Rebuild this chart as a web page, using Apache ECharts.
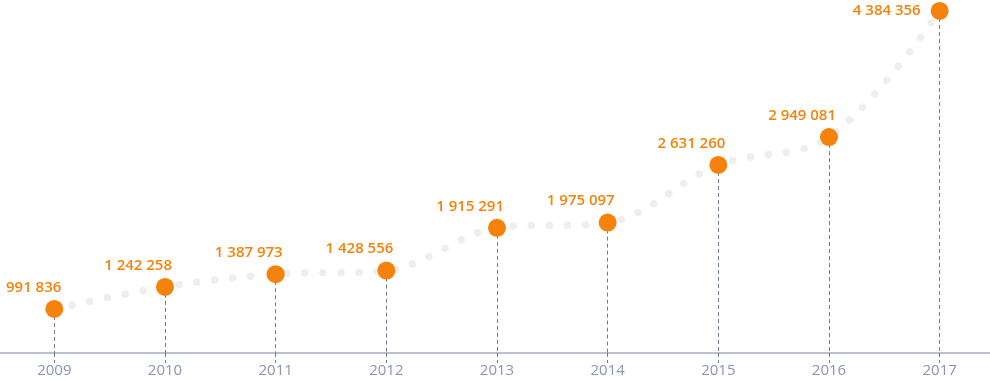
<!DOCTYPE html>
<html>
<head>
<meta charset="utf-8">
<script src="https://cdn.jsdelivr.net/npm/echarts@6/dist/echarts.min.js"></script>
<style>html,body{margin:0;padding:0;background:#fff}#c{width:990px;height:380px}</style>
</head>
<body>
<div id="c"></div>
<script>
var years = ['2009','2010','2011','2012','2013','2014','2015','2016','2017'];
var values = [991836, 1242258, 1387973, 1428556, 1915291, 1975097, 2631260, 2949081, 4384356];
var yMin = 490700;
var yMax = 4509400;

function fmt(v){ return String(v).replace(/\B(?=(\d{3})+(?!\d))/g, ' '); }

var chart = echarts.init(document.getElementById('c'));
var pointData = values.map(function(v, i){
  var item = { value: v };
  if (i === values.length - 1) {
    item.label = { position: 'left', distance: 10, align: 'right', verticalAlign: 'middle', offset: [0, 0] };
  }
  return item;
});
var lines = values.map(function(v, i){
  return [{ coord: [years[i], v] }, { coord: [years[i], yMin] }];
});
chart.setOption({
  animation: false,
  grid: { left: -1, right: -5, top: 0, bottom: 27, outerBoundsMode: 'none', containLabel: false },
  xAxis: {
    type: 'category',
    data: years,
    boundaryGap: true,
    axisLine: { lineStyle: { color: '#a3aac6', width: 1.5 } },
    axisTick: { show: true, alignWithLabel: true, length: 10, lineStyle: { color: '#6f799c', type: [4, 3] } },
    axisLabel: { color: '#8a93b8', fontFamily: 'Open Sans', fontSize: 15, margin: 10 }
  },
  yAxis: { type: 'value', min: yMin, max: yMax, show: false, splitLine: { show: false } },
  series: [
    {
      type: 'line',
      data: values,
      smooth: 0.35,
      symbol: 'none',
      lineStyle: { color: '#eeeeee', width: 7.5, type: [0.1, 18], cap: 'round' },
      z: 1,
      silent: true
    },
    {
      type: 'line',
      data: pointData,
      symbol: 'circle',
      symbolSize: 18,
      lineStyle: { width: 0, opacity: 0 },
      itemStyle: { color: '#f5820b' },
      z: 5,
      label: {
        show: true,
        position: 'top',
        distance: 5,
        align: 'right',
        offset: [7, 0],
        color: '#f5820b',
        fontFamily: 'Open Sans',
        fontWeight: 600,
        fontSize: 15,
        formatter: function(p){ return fmt(p.value); }
      },
      markLine: {
        silent: true,
        symbol: 'none',
        label: { show: false },
        z: 2,
        lineStyle: { color: '#6f799c', width: 1, type: [4, 3] },
        data: lines
      }
    }
  ]
});
</script>
</body>
</html>
